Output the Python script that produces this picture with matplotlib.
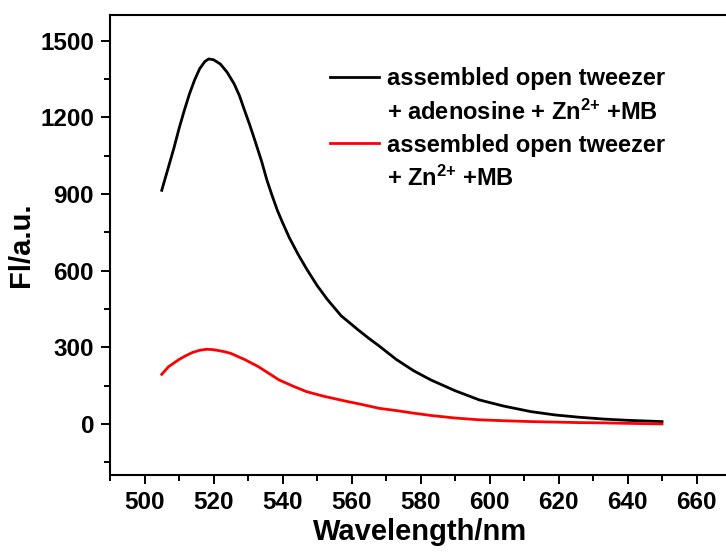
import numpy as np
import matplotlib
matplotlib.use('Agg')
import matplotlib.pyplot as plt
from matplotlib.lines import Line2D
from matplotlib.ticker import MultipleLocator

plt.rcParams['font.family'] = ['Liberation Sans', 'DejaVu Sans']
plt.rcParams['font.weight'] = 'bold'
plt.rcParams['mathtext.fontset'] = 'custom'
plt.rcParams['mathtext.rm'] = 'Liberation Sans:bold'
plt.rcParams['mathtext.bf'] = 'Liberation Sans:bold'
plt.rcParams['mathtext.default'] = 'bf'

# spectra (wavelength in nm, intensity in a.u.)
wl_adenosine = [505, 506, 507.5, 508.5, 510, 511.5, 513, 514.5, 516, 517.5, 518.6, 520,
                522, 524, 526, 527.5, 529, 530.5, 532, 534, 535.5, 537, 538.5, 540,
                542, 544.5, 547, 550, 553, 557, 562, 565, 568, 573, 578, 583, 590,
                597, 604, 612, 619, 626, 633, 640, 650]
fl_adenosine = [914, 961, 1031, 1078, 1155, 1225, 1290, 1345, 1390, 1418, 1428, 1425,
                1408, 1375, 1330, 1285, 1227, 1170, 1109, 1025, 953, 893, 836, 788,
                728, 664, 606, 542, 487, 423, 367, 335, 305, 252, 208, 172, 130,
                94, 70, 48, 35, 26, 19, 14, 9]

wl_blank = [505, 507, 510, 512, 514, 516, 518, 519.5, 521, 523, 525, 529, 533, 536,
            539, 543, 547, 552, 559, 563, 568, 573, 578, 583, 590, 597, 605,
            612, 619, 626, 633, 640, 650]
fl_blank = [194, 224, 252, 267, 280, 288, 292, 291, 288, 283, 276, 252, 224, 198,
            172, 148, 126, 108, 87, 76, 61, 52, 42, 33, 23, 16, 12,
            9, 7, 5, 4, 2, 0]

label_adenosine = 'assembled open tweezer'
label_adenosine2 = '+ adenosine + Zn$^{2{+}}$ +MB'
label_blank = 'assembled open tweezer'
label_blank2 = '+ Zn$^{2{+}}$ +MB'

fig = plt.figure(figsize=(7.26, 5.52), dpi=100)
ax = fig.add_axes([110/726, 1-475/552, 621/726, 460/552])

l1, = ax.plot(wl_adenosine, fl_adenosine, color='black', lw=2, solid_joinstyle='round')
l2, = ax.plot(wl_blank, fl_blank, color='#ff0000', lw=2, solid_joinstyle='round')

ax.set_xlim(490, 670)
ax.set_ylim(-200, 1600)
ax.xaxis.set_major_locator(MultipleLocator(20))
ax.xaxis.set_minor_locator(MultipleLocator(10))
ax.yaxis.set_major_locator(MultipleLocator(300))
ax.yaxis.set_minor_locator(MultipleLocator(150))
ax.set_yticks(np.arange(0, 1501, 300))

ax.tick_params(which='major', direction='out', length=6.5, width=1.4, labelsize=17.5, pad=5)
ax.tick_params(which='minor', direction='out', length=4.3, width=1.4)
ax.tick_params(top=False, right=False, which='both')
for s in ax.spines.values():
    s.set_linewidth(1.5)

ax.set_xlabel('Wavelength/nm', fontsize=21, fontweight='bold', labelpad=3)
ax.set_ylabel('Fl/a.u.', fontsize=21, fontweight='bold', labelpad=4)

blank = Line2D([], [], color='none')
ax.legend([l1, blank, l2, blank],
          [label_adenosine, label_adenosine2, label_blank, label_blank2],
          loc='upper left', bbox_to_anchor=(0.354, 0.886), frameon=False,
          fontsize=17, handlelength=2.1, handletextpad=0.34, labelspacing=0.38,
          borderpad=0, borderaxespad=0)

fig.savefig('out.png', dpi=100)
